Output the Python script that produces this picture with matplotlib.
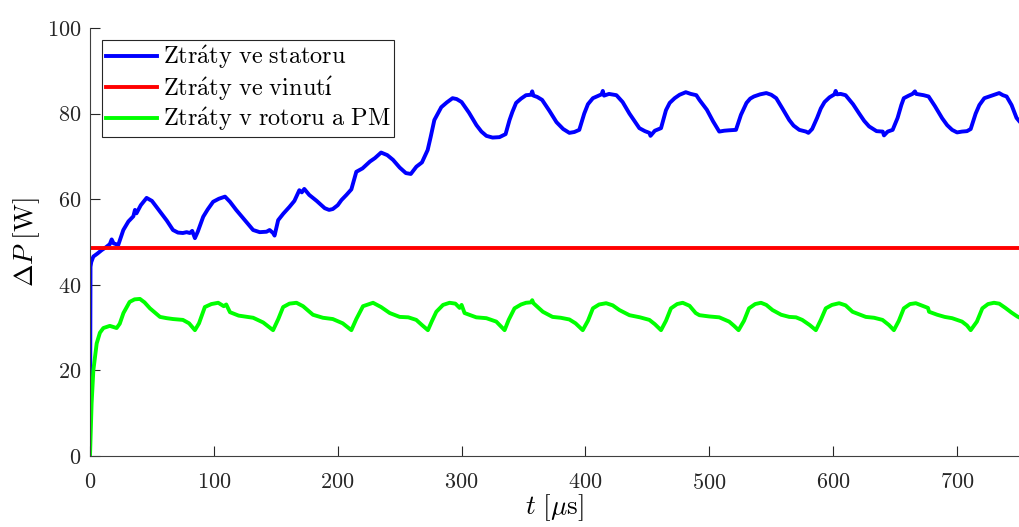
import numpy as np
import matplotlib
matplotlib.use("Agg")
import matplotlib.pyplot as plt

plt.rcParams["font.family"] = "serif"
plt.rcParams["font.serif"] = ["cmr10"]
plt.rcParams["mathtext.fontset"] = "cm"
plt.rcParams["axes.formatter.use_mathtext"] = True

# Stator losses (blue), (t [us], P [W])
stator = [(0, 0), (0.4, 44.2), (1, 45.3), (2.7, 46.6), (6, 47.3), (9.4, 48.1), (13, 48.8),
          (16, 49.5), (17.5, 50.6), (19, 49.7), (22.8, 49.3), (26.9, 52.8), (31, 54.8),
          (35, 56.0), (36.3, 57.5), (37.5, 56.7), (41, 58.6), (45.7, 60.3), (50, 59.6),
          (56.5, 57.1), (62, 55.0), (67, 52.8), (71, 52.2), (75, 52.1), (78, 52.3),
          (80.6, 52.1), (82.5, 52.6), (84.7, 50.9), (87, 52.4), (91.4, 55.9), (95, 57.6),
          (99.4, 59.4), (104, 60.1), (109, 60.6), (113, 59.4), (118, 57.5), (125, 55.1),
          (131.7, 52.8), (137, 52.3), (142.5, 52.4), (145, 52.8), (147.8, 52.1),
          (149, 51.5), (151.9, 55.1), (156, 56.6), (161, 58.2), (165, 59.6), (169, 62.1),
          (171, 61.6), (173, 62.4), (177, 61.0), (183, 59.6), (189.5, 57.9), (193, 57.5),
          (196, 57.7), (200, 58.6), (203, 59.8), (207, 61.0), (211, 62.3), (215, 66.4),
          (220, 67.2), (226, 68.8), (230, 69.6), (235, 70.9), (240, 70.3), (244.6, 69.2),
          (250, 67.4), (255, 66.1), (259, 65.9), (263.5, 67.6), (268, 68.6), (272.6, 71.5),
          (275, 74.5), (278, 78.5), (283.6, 81.5), (288, 82.6), (292.7, 83.6), (296, 83.4),
          (300, 82.7), (306, 80.2), (312, 77.3), (316, 75.8), (320, 74.8), (325, 74.4),
          (330.6, 74.5), (335.5, 75.2), (338.7, 78.5), (341, 80.4), (344, 82.5),
          (348, 83.5), (352, 84.3), (356, 84.4), (357, 85.2), (358, 84.2), (361, 83.9),
          (365, 83.2), (371, 80.6), (376.6, 78.0), (382, 76.4), (387, 75.5), (391, 75.7),
          (395, 76.2), (399, 80.0), (402, 82.2), (406, 83.6), (410, 84.1), (413, 84.5),
          (414, 85.3), (415, 84.2), (419, 84.6), (425, 84.3), (430, 82.7), (435.5, 80.0),
          (443.5, 76.6), (448, 75.9), (451.6, 75.5), (452.5, 74.8), (456, 76.0),
          (461, 76.6), (465, 80.8), (468, 82.5), (472, 83.6), (476, 84.4), (481, 85.0),
          (485, 84.6), (489.5, 84.3), (492, 83.2), (498, 80.9), (503, 78.2), (508, 75.8),
          (512, 76.0), (516, 76.1), (521.5, 76.2), (525.5, 79.7), (530, 82.5), (533, 83.5),
          (536, 84.0), (541, 84.5), (546, 84.8), (550, 84.4), (554, 83.6), (559, 81.2),
          (564.5, 78.5), (568, 77.2), (572.6, 76.2), (578, 75.8), (580, 75.5), (583, 76.4),
          (587, 79.0), (590, 81.2), (593, 82.7), (597, 83.8), (601, 84.5), (602, 85.3),
          (603, 84.5), (606, 84.6), (610, 84.3), (616, 82.2), (621, 80.0), (625, 78.3),
          (629, 77.0), (635, 75.9), (640, 75.8), (641, 74.9), (644, 75.8), (648, 76.2),
          (652, 79.0), (655, 82.0), (657, 83.6), (661, 84.2), (664, 84.6), (666, 85.2),
          (667, 84.6), (669, 84.5), (673, 84.3), (677, 84.0), (682, 81.8), (688, 78.9),
          (692, 77.3), (696, 76.2), (700, 75.6), (704, 75.8), (708, 75.9), (711, 76.4),
          (715, 80.0), (718, 82.0), (722, 83.6), (726, 84.0), (730, 84.4), (734, 84.8),
          (737, 84.3), (740, 84.0), (744, 82.0), (748, 79.0), (750, 78.3)]

# Winding losses (red)
winding = [(0, 48.7), (750, 48.7)]

# Rotor + PM losses (green)
rotor = [(0, 0), (1.3, 12.3), (2.7, 20.0), (5.4, 26.3), (8, 28.8), (10.8, 29.9), (16, 30.4),
         (21.5, 29.9), (24, 30.9), (27, 33.4), (32, 36.0), (36, 36.6), (40.3, 36.7),
         (44, 35.9), (48.4, 34.5), (56.5, 32.5), (62, 32.2), (67, 32.0), (75, 31.8),
         (80, 31.0), (84.7, 29.4), (88, 31.0), (92.7, 34.8), (98, 35.5), (103.5, 35.8),
         (108, 35.0), (110, 35.4), (113, 33.6), (120, 32.8), (131.7, 32.3), (139.8, 31.2),
         (147.8, 29.4), (152, 32.0), (155.9, 34.8), (161, 35.6), (166.7, 35.8), (172, 35.0),
         (180, 33.0), (188, 32.3), (196, 32.0), (204, 31.0), (211, 29.4), (215, 32.0),
         (220.4, 35.0), (228.5, 35.8), (235, 34.8), (242, 33.4), (250, 32.5), (257, 32.4),
         (263.4, 31.8), (268, 30.6), (272.8, 29.4), (276, 31.5), (279.6, 33.7), (285, 35.3),
         (290.3, 35.8), (295, 35.6), (298.4, 34.6), (300, 35.3), (302.4, 33.4),
         (311.8, 32.4), (320, 32.2), (328, 31.4), (334.7, 29.4), (338, 31.8), (342.7, 34.5),
         (348, 35.4), (352, 35.8), (356, 35.9), (357, 36.4), (358, 35.7), (365.6, 33.7),
         (373.4, 32.5), (380, 32.3), (387, 31.9), (392, 31.0), (397.8, 29.4), (402, 31.6),
         (406, 34.5), (411, 35.4), (416.7, 35.7), (422, 35.2), (427.4, 34.1), (435.5, 32.9),
         (444, 32.4), (451.6, 31.8), (456, 30.8), (461, 29.4), (465, 31.6), (469, 34.5),
         (474, 35.5), (478.5, 35.8), (484, 35.1), (489, 33.4), (492, 32.9), (500, 32.6),
         (508, 32.4), (516, 31.4), (520, 30.4), (523.6, 29.4), (528, 31.6), (532, 34.5),
         (537, 35.5), (541.7, 35.8), (546, 35.3), (551, 34.1), (558, 33.0), (564.5, 32.5),
         (570, 32.4), (575, 31.8), (581, 30.6), (586, 29.4), (590, 31.8), (594, 34.5),
         (599, 35.3), (604.8, 35.7), (610, 35.2), (615.6, 33.7), (626.3, 32.5), (633, 32.3),
         (639.8, 31.8), (645, 30.6), (649, 29.4), (653, 31.6), (657, 34.5), (662, 35.5),
         (666.7, 35.7), (672, 35.1), (676.5, 34.6), (677.4, 33.7), (684, 33.0), (690, 32.5),
         (696, 32.2), (704, 31.4), (708, 30.5), (711, 29.4), (716, 31.4), (720.4, 34.5),
         (725, 35.5), (729.8, 35.8), (734, 35.6), (739, 34.6), (744, 33.5), (748.6, 32.6),
         (750, 32.4)]

labels = [r"$\mathrm{Ztr\acute{a}ty\ ve\ statoru}$",
          r"$\mathrm{Ztr\acute{a}ty\ ve\ vinut\acute{ı}}$",
          r"$\mathrm{Ztr\acute{a}ty\ v\ rotoru\ a\ PM}$"]
colors = ["#0000ff", "#ff0000", "#00ff00"]

fig = plt.figure(figsize=(10.19, 5.27), dpi=100)
ax = fig.add_axes([90 / 1019, 71 / 527, 929 / 1019, 428 / 527])

for series, color, label in zip([stator, winding, rotor], colors, labels):
    t, p = zip(*series)
    ax.plot(t, p, color=color, linewidth=2.8, label=label)

ax.set_xlim(0, 750)
ax.set_ylim(0, 100)
ax.set_xticks(np.arange(0, 701, 100))
ax.set_yticks(np.arange(0, 101, 20))
ax.tick_params(direction="in", length=7, width=0.8, colors="#262626",
               labelsize=16, pad=6)
ax.tick_params(axis="x", pad=12)
for side in ["top", "right"]:
    ax.spines[side].set_visible(False)
for side in ["left", "bottom"]:
    ax.spines[side].set_color("#404040")
    ax.spines[side].set_linewidth(0.8)

ax.set_xlabel(r"$t\ [\mu\mathrm{s}]$", fontsize=19.5, labelpad=0)
ax.set_ylabel(r"$\Delta P\ [\mathrm{W}]$", fontsize=19.5, labelpad=4)

leg = ax.legend(loc="upper left", bbox_to_anchor=(0.013, 0.972), borderaxespad=0,
                fontsize=17.5, fancybox=False, framealpha=1, edgecolor="#262626",
                handlelength=2.1, handletextpad=0.25, borderpad=0.15,
                labelspacing=0.12)
leg.get_frame().set_linewidth(0.8)

plt.savefig("out.png", dpi=100)
